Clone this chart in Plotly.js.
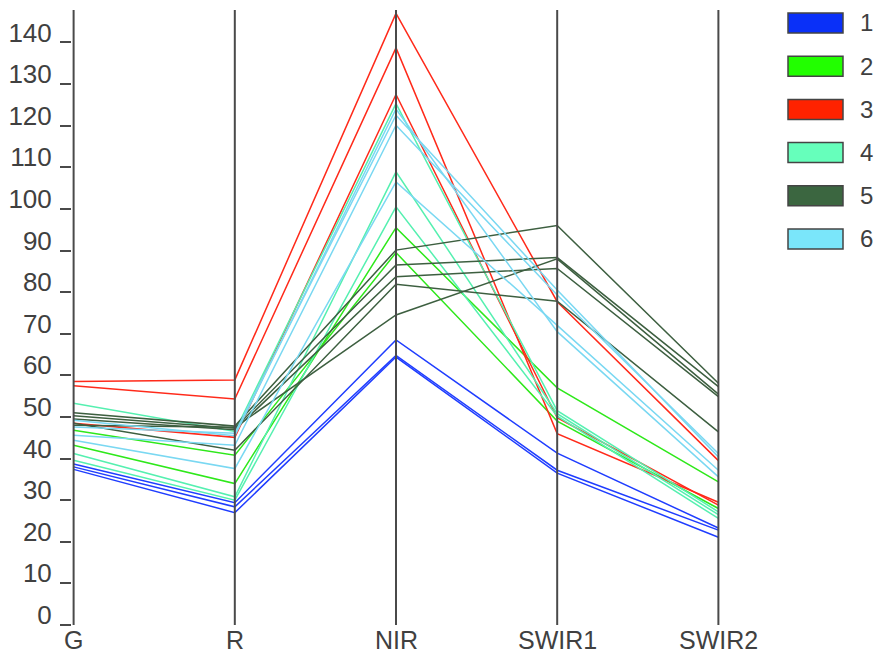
<!DOCTYPE html>
<html>
<head>
<meta charset="utf-8">
<script src="https://cdn.plot.ly/plotly-3.0.1.min.js"></script>
<style>html,body{margin:0;padding:0;background:#fff;}#chart{width:878px;height:656px;}</style>
</head>
<body>
<div id="chart"></div>
<script>
// ---- data ----
const bandLabels = ['G', 'R', 'NIR', 'SWIR1', 'SWIR2'];
const classNames = ['1', '2', '3', '4', '5', '6'];

const class1 = [
  [38.7, 29.4, 68.5, 41.3, 23.3],
  [38.0, 28.4, 64.8, 37.2, 22.8],
  [37.4, 27.0, 64.4, 36.5, 21.1]
];
const class2 = [
  [43.2, 34.0, 95.5, 57.0, 34.4],
  [46.8, 40.8, 89.5, 49.0, 28.0]
];
const class3 = [
  [58.5, 58.9, 147.0, 77.7, 39.5],
  [57.5, 54.3, 138.7, 46.0, 29.5],
  [48.5, 45.1, 127.5, 49.8, 28.8]
];
const class4 = [
  [53.3, 46.5, 125.3, 51.5, 27.2],
  [41.2, 30.8, 108.9, 50.8, 26.5],
  [39.6, 30.0, 100.5, 50.2, 25.6]
];
const class5 = [
  [51.0, 47.8, 90.1, 96.0, 58.1],
  [50.3, 47.3, 86.5, 88.3, 57.3],
  [49.5, 46.9, 83.7, 85.7, 54.9],
  [48.5, 42.0, 81.9, 77.8, 46.4],
  [48.0, 47.5, 74.5, 88.0, 55.5]
];
const class6 = [
  [47.6, 46.1, 122.5, 80.5, 40.4],
  [45.6, 43.2, 120.1, 79.3, 41.2],
  [44.4, 37.6, 106.5, 72.0, 37.2],
  [49.2, 45.5, 124.0, 70.5, 35.6]
];
const yTicks = [0, 10, 20, 30, 40, 50, 60, 70, 80, 90, 100, 110, 120, 130, 140];

// ---- style ----
const lineColors = ['#1f3dff', '#2ee81a', '#ff2a1a', '#55f0b0', '#3d5f40', '#7ad8f2'];
const boxColors  = ['#0a30f8', '#22ff00', '#ff2200', '#66ffbb', '#3b6640', '#7ae6fa'];
const allClasses = [class1, class2, class3, class4, class5, class6];

const W = 878, H = 656;
const mL = 72, mR = 158, mT = 10, mB = 31;
const plotW = W - mL - mR, plotH = H - mT - mB;
const px2x = px => (px - mL) / plotW;
const py2y = py => (H - mB - py) / plotH;

const xIdx = bandLabels.map((_, i) => i);
const traces = [];
allClasses.forEach((cls, ci) => {
  cls.forEach(vals => {
    traces.push({
      type: 'scatter', mode: 'lines',
      x: xIdx, y: vals,
      line: {color: lineColors[ci], width: 1.5},
      showlegend: false, hoverinfo: 'skip'
    });
  });
});

const shapes = xIdx.map(i => ({
  type: 'line', xref: 'x', yref: 'paper',
  x0: i, x1: i, y0: 0, y1: 1,
  line: {color: '#4a4a4a', width: 2}, layer: 'above'
}));

const textFont = {family: 'Liberation Sans, Arial, sans-serif', size: 26, color: '#404040'};

const annotations = [];
bandLabels.forEach((lab, i) => {
  annotations.push({
    xref: 'x', yref: 'paper', x: i, y: py2y(640),
    xanchor: 'center', yanchor: 'middle', showarrow: false,
    text: lab, font: {family: textFont.family, size: 25, color: textFont.color}
  });
});
classNames.forEach((name, k) => {
  const top = 13 + k * 43.2;
  shapes.push({
    type: 'rect', xref: 'paper', yref: 'paper',
    x0: px2x(788), x1: px2x(843), y0: py2y(top + 20), y1: py2y(top),
    fillcolor: boxColors[k], line: {color: '#444', width: 1.5}
  });
  annotations.push({
    xref: 'paper', yref: 'paper', x: px2x(858), y: py2y(top + 10),
    xanchor: 'left', yanchor: 'middle', showarrow: false,
    text: name, font: {family: textFont.family, size: 24, color: textFont.color}
  });
});

const layout = {
  width: W, height: H,
  margin: {l: mL, r: mR, t: mT, b: mB, pad: 0},
  paper_bgcolor: '#fff', plot_bgcolor: '#fff',
  showlegend: false,
  xaxis: {
    range: [-0.01, 4.01], tickvals: xIdx, showticklabels: false,
    showgrid: false, zeroline: false, showline: false, ticks: '',
    automargin: false, fixedrange: true
  },
  yaxis: {
    range: [0, 147.8], tickvals: yTicks, ticktext: yTicks.map(String),
    showgrid: false, zeroline: false, showline: false,
    ticks: 'outside', ticklen: 11, tickwidth: 2, tickcolor: '#4a4a4a',
    tickfont: textFont, ticklabelshift: -10, ticklabelstandoff: 3,
    automargin: false, fixedrange: true
  },
  shapes: shapes,
  annotations: annotations
};

Plotly.newPlot('chart', traces, layout, {displayModeBar: false, staticPlot: true});
</script>
</body>
</html>
